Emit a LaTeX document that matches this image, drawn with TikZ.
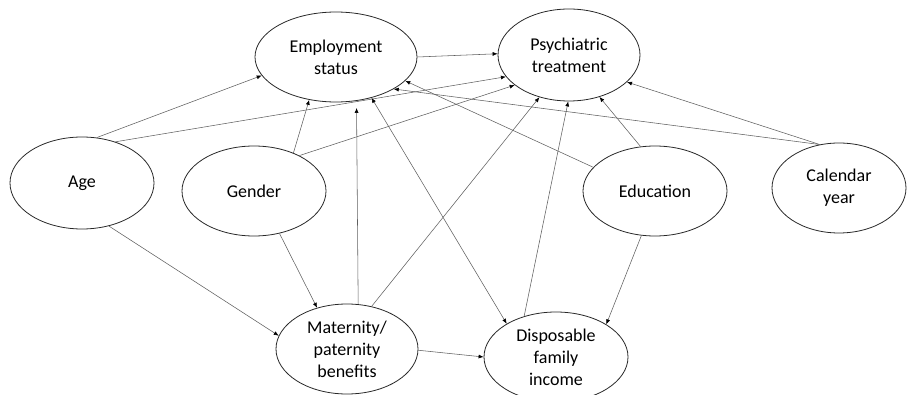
\documentclass[tikz,border=0pt]{standalone}
\usepackage{fontspec}
\setmainfont{Carlito}
\usetikzlibrary{shapes.geometric,arrows.meta}
\definecolor{edgecol}{RGB}{95,95,95}
\definecolor{ellcol}{RGB}{40,40,40}
\begin{document}
\begin{tikzpicture}[x=1pt,y=-1pt,
  var/.style={draw=ellcol,line width=0.8pt,ellipse,inner sep=0pt,align=center,
    font=\fontsize{18}{22}\selectfont,text=black},
  conn/.style={draw=edgecol,line width=0.55pt,-{Latex[length=5pt,width=4pt,color=black]}},
  conn2/.style={draw=edgecol,line width=0.55pt,{Latex[length=5pt,width=4pt,color=black]}-{Latex[length=5pt,width=4pt,color=black]}}]
\useasboundingbox (0,0) rectangle (907,395);
\node[var,minimum width=162pt,minimum height=90pt] (E) at (336,57) {Employment\\status};
\node[var,minimum width=142pt,minimum height=92pt] (P) at (569,55) {Psychiatric\\treatment};
\node[var,minimum width=144pt,minimum height=92pt] (A) at (82,183) {Age};
\node[var,minimum width=144pt,minimum height=90pt] (G) at (254,191) {Gender};
\node[var,minimum width=144pt,minimum height=90pt] (Ed) at (655,191) {Education};
\node[var,minimum width=134pt,minimum height=90pt] (C) at (839,188) {Calendar\\year};
\node[var,minimum width=142pt,minimum height=90pt] (M) at (347,349) {Maternity/\\paternity\\benefits};
\node[var,minimum width=144pt,minimum height=90pt] (D) at (556,357) {Disposable\\family\\income};
\draw[conn] (E.0) -- (P.179);
\draw[conn] (A.72) -- (E.194);
\draw[conn] (A.51) -- (P.199);
\draw[conn] (A.302) -- (M.169);
\draw[conn] (G.44) -- (E.238);
\draw[conn] (G.38) -- (P.209);
\draw[conn] (G.301) -- (M.126);
\draw[conn,shorten >=7pt] (M.76) -- (E.295);
\draw[conn] (M.60) -- (P.235);
\draw[conn] (M.359) -- (D.180);
\draw[conn2] (D.146) -- (E.311);
\draw[conn] (D.128) -- (P.269);
\draw[conn] (Ed.159) -- (E.341);
\draw[conn] (Ed.108) -- (P.306);
\draw[conn] (Ed.253) -- (D.33);
\draw[conn] (C.114) -- (E.331);
\draw[conn] (C.114) -- (P.335);
\end{tikzpicture}
\end{document}
